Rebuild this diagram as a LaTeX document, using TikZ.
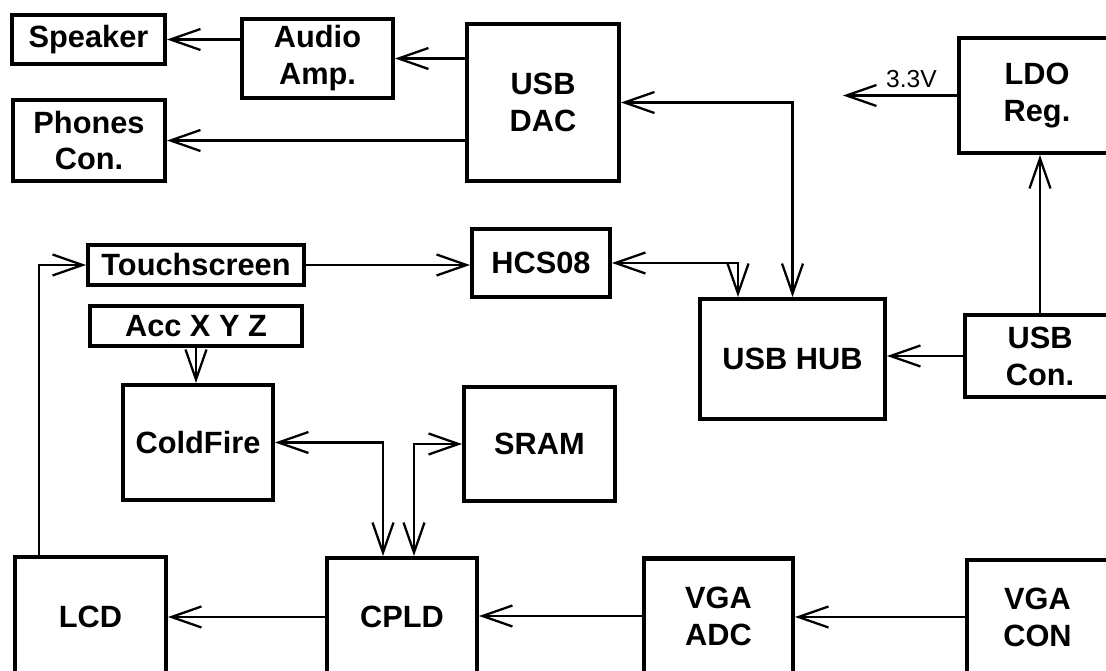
\documentclass[tikz,border=0pt]{standalone}
\usepackage{fontspec}
\setmainfont{Liberation Sans}
\usetikzlibrary{arrows.meta}
\begin{document}
\begin{tikzpicture}[x=0.02cm, y=-0.02cm, every node/.style={font=\fontsize{17.5}{21}\selectfont\bfseries}]
			% Styles
			\tikzstyle{blk} = [draw=black, line width=2.3pt, align=center, inner sep=0pt]
			\tikzstyle{link} = [line width=1.3pt, -{Straight Barb[length=0.6cm, width=0.42cm]}]
			\tikzstyle{link_both} = [line width=1.3pt, {Straight Barb[length=0.6cm, width=0.42cm]}-{Straight Barb[length=0.6cm, width=0.42cm]}]
			\tikzstyle{volt} = [font=\fontsize{14}{16}\selectfont, inner sep=4pt]

			% Frame of the picture
			\useasboundingbox (0,0) rectangle (1106,671);
			\clip (0,0) rectangle (1106,671);

			% Audio output (top left)
			\node[blk, minimum width=3.06cm, minimum height=0.98cm] (spk) at (88.5,39.5) {Speaker};
			\node[blk, minimum width=3.04cm, minimum height=1.62cm] (pho) at (89,140.5) {Phones\\Con.};
			\node[blk, minimum width=3.02cm, minimum height=1.58cm] (amp) at (317.5,58.5) {Audio\\Amp.};
			\node[blk, minimum width=3.04cm, minimum height=3.14cm] (dac) at (543,102.5) {USB\\DAC};

			% Power and USB (right)
			\node[blk, minimum width=3.12cm, minimum height=2.3cm] (ldo) at (1037,95.5) {LDO\\Reg.};
			\node[blk, minimum width=3.0cm, minimum height=1.64cm] (usbc) at (1040,356) {USB\\Con.};
			\node[blk, minimum width=3.7cm, minimum height=2.4cm] (hub) at (792.5,359) {USB HUB};
			\node[blk, minimum width=2.76cm, minimum height=1.36cm] (hcs) at (541,263) {HCS08};
			\coordinate (v33) at (843,95.5);

			% Processor side (left)
			\node[blk, minimum width=4.32cm, minimum height=0.8cm] (touch) at (196,265) {Touchscreen};
			\node[blk, minimum width=4.24cm, minimum height=0.8cm] (acc) at (196,326) {Acc X Y Z};
			\node[blk, minimum width=3.0cm, minimum height=2.3cm] (cf) at (198,442.5) {ColdFire};
			\node[blk, minimum width=3.02cm, minimum height=2.28cm] (sram) at (539.5,444) {SRAM};

			% Video chain (bottom)
			\node[blk, minimum width=3.02cm, minimum height=2.4cm] (lcd) at (90.5,617) {LCD};
			\node[blk, minimum width=3.0cm, minimum height=2.36cm] (cpld) at (402,617) {CPLD};
			\node[blk, minimum width=2.98cm, minimum height=2.3cm] (adc) at (718.5,616) {VGA\\ADC};
			\node[blk, minimum width=2.82cm, minimum height=2.28cm] (vcon) at (1037.5,617) {VGA\\CON};

			% Audio links
			\draw[link] (amp.west |- spk.east) -- (spk.east);
			\draw[link] (dac.west |- amp.east) -- (amp.east);
			\draw[link] (dac.west |- pho.east) -- (pho.east);

			% USB and power links
			\draw[link] (ldo.west) -- node[volt, above, pos=0.4] {3.3V} (v33);
			\draw[link] (usbc.north) -- (usbc.north |- ldo.south);
			\draw[link] (usbc.west) -- (usbc.west -| hub.east);
			\draw[link_both] (dac.east) -| (hub.north);
			\draw[link_both] (hcs.east) -| ([xshift=-1.09cm]hub.north);
			\draw[link] (touch.east) -- (touch.east -| hcs.west);

			% Processor links
			\draw[link] ([xshift=-1.03cm]lcd.north) |- (touch.west);
			\draw[link] (acc.south) -- (acc.south |- cf.north);
			\draw[link_both] (cf.east) -| ([xshift=-0.38cm]cpld.north);
			\draw[link_both] (sram.west) -| ([xshift=0.24cm]cpld.north);

			% Video links
			\draw[link] (cpld.west) -- (cpld.west -| lcd.east);
			\draw[link] (adc.west) -- (adc.west -| cpld.east);
			\draw[link] (vcon.west) -- (vcon.west -| adc.east);

		\end{tikzpicture}
\end{document}
